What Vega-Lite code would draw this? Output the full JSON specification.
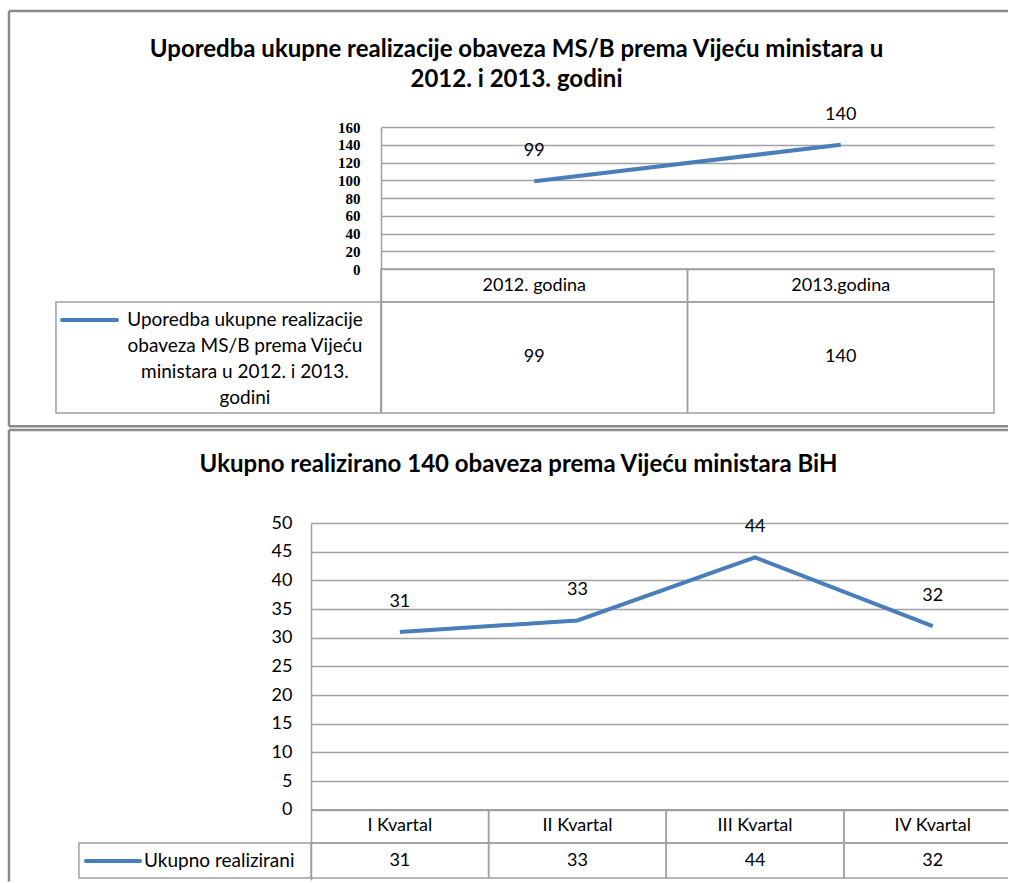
{
  "$schema": "https://vega.github.io/schema/vega-lite/v6.json",
  "padding": {"left": 7, "top": 9, "right": 0, "bottom": 0},
  "background": "white",
  "spacing": 0,
  "datasets": {
    "godine": [
      {"kategorija": "2012. godina", "vrijednost": 99},
      {"kategorija": "2013.godina", "vrijednost": 140}
    ],
    "serijaGodine": [
      {"serija": "Uporedba ukupne realizacije obaveza MS/B prema Vijeću ministara u 2012. i 2013. godini"}
    ],
    "kvartali": [
      {"kvartal": "I Kvartal", "vrijednost": 31},
      {"kvartal": "II Kvartal", "vrijednost": 33},
      {"kvartal": "III Kvartal", "vrijednost": 44},
      {"kvartal": "IV Kvartal", "vrijednost": 32}
    ],
    "serijaKvartali": [
      {"serija": "Ukupno realizirani"}
    ]
  },
  "config": {
    "view": {"stroke": null},
    "font": "Lato",
    "title": {"font": "Lato", "fontWeight": "bold", "fontSize": 24, "color": "black", "anchor": "middle", "frame": "group", "lineHeight": 30},
    "text": {"font": "Lato", "fontSize": 18, "color": "black"},
    "axisY": {
      "grid": true, "gridColor": "#a0a0a0", "gridWidth": 1.5,
      "domain": true, "domainColor": "#a0a0a0", "domainWidth": 1.5,
      "ticks": false, "tickSize": 0, "labelColor": "black", "labelOverlap": false, "labelBaseline": "middle"
    }
  },
  "vconcat": [
    {
      "width": 683,
      "height": 286,
      "title": {"text": ["Uporedba ukupne realizacije obaveza MS/B prema Vijeću ministara u", "2012. i 2013. godini"], "dx": -136, "offset": -82},
      "resolve": {"scale": {"x": "independent"}},
      "layer": [
        {
          "data": {"name": "godine"},
          "mark": {"type": "rect", "fill": "transparent", "stroke": "#a0a0a0", "strokeWidth": 1.5},
          "encoding": {
            "x": {"field": "kategorija", "type": "nominal", "sort": null, "scale": {"type": "band", "paddingInner": 0, "paddingOuter": 0, "range": [70, 683]}, "axis": null},
            "y": {"datum": 0, "type": "quantitative", "scale": {"domain": [-162, 160], "nice": false, "zero": false}},
            "y2": {"datum": -37}
          }
        },
        {
          "data": {"name": "godine"},
          "mark": {"type": "rect", "fill": "transparent", "stroke": "#a0a0a0", "strokeWidth": 1.5},
          "encoding": {
            "x": {"field": "kategorija", "type": "nominal", "sort": null, "scale": {"type": "band", "paddingInner": 0, "paddingOuter": 0, "range": [70, 683]}, "axis": null},
            "y": {"datum": -37, "type": "quantitative", "scale": {"domain": [-162, 160], "nice": false, "zero": false}},
            "y2": {"datum": -162}
          }
        },
        {
          "data": {"name": "godine"},
          "mark": {"type": "line", "color": "#4a7ebb", "strokeWidth": 4},
          "encoding": {
            "x": {"field": "kategorija", "type": "nominal", "sort": null, "bandPosition": 0.5, "scale": {"type": "band", "paddingInner": 0, "paddingOuter": 0, "range": [70, 683]}, "axis": null},
            "y": {
              "field": "vrijednost", "type": "quantitative",
              "scale": {"domain": [-162, 160], "nice": false, "zero": false},
              "axis": {
                "title": null,
                "values": [0, 20, 40, 60, 80, 100, 120, 140, 160],
                "tickCount": 50,
                "offset": -70,
                "labelFont": "Liberation Serif", "labelFontSize": 15, "labelFontWeight": "bold", "labelPadding": 21
              }
            }
          }
        },
        {
          "data": {"name": "godine"},
          "mark": {"type": "text", "dy": -30, "baseline": "middle"},
          "encoding": {
            "x": {"field": "kategorija", "type": "nominal", "sort": null, "bandPosition": 0.5, "scale": {"type": "band", "paddingInner": 0, "paddingOuter": 0, "range": [70, 683]}, "axis": null},
            "y": {"field": "vrijednost", "type": "quantitative", "scale": {"domain": [-162, 160], "nice": false, "zero": false}},
            "text": {"field": "vrijednost", "type": "quantitative"}
          }
        },
        {
          "data": {"name": "godine"},
          "mark": {"type": "text", "baseline": "middle"},
          "encoding": {
            "x": {"field": "kategorija", "type": "nominal", "sort": null, "bandPosition": 0.5, "scale": {"type": "band", "paddingInner": 0, "paddingOuter": 0, "range": [70, 683]}, "axis": null},
            "y": {"datum": -18.5, "type": "quantitative", "scale": {"domain": [-162, 160], "nice": false, "zero": false}},
            "text": {"field": "kategorija", "type": "nominal"}
          }
        },
        {
          "data": {"name": "godine"},
          "mark": {"type": "text", "baseline": "middle"},
          "encoding": {
            "x": {"field": "kategorija", "type": "nominal", "sort": null, "bandPosition": 0.5, "scale": {"type": "band", "paddingInner": 0, "paddingOuter": 0, "range": [70, 683]}, "axis": null},
            "y": {"datum": -99.5, "type": "quantitative", "scale": {"domain": [-162, 160], "nice": false, "zero": false}},
            "text": {"field": "vrijednost", "type": "quantitative"}
          }
        },
        {
          "data": {"name": "serijaGodine"},
          "mark": {"type": "rule", "color": "#8a8a8a", "strokeWidth": 2.5},
          "encoding": {
            "x": {"datum": -0.4422, "type": "quantitative", "scale": {"domain": [0, 1], "nice": false, "zero": false}, "axis": null},
            "y": {"datum": 290.6, "type": "quantitative", "scale": {"domain": [-162, 160], "nice": false, "zero": false}},
            "y2": {"datum": -177}
          }
        },
        {
          "data": {"name": "serijaGodine"},
          "mark": {"type": "rule", "color": "#8a8a8a", "strokeWidth": 2.5},
          "encoding": {
            "x": {"datum": -0.4422, "type": "quantitative", "scale": {"domain": [0, 1], "nice": false, "zero": false}, "axis": null},
            "x2": {"datum": 1.0205},
            "y": {"datum": 290.6, "type": "quantitative", "scale": {"domain": [-162, 160], "nice": false, "zero": false}}
          }
        },
        {
          "data": {"name": "serijaGodine"},
          "mark": {"type": "rule", "color": "#8a8a8a", "strokeWidth": 2.5},
          "encoding": {
            "x": {"datum": -0.4422, "type": "quantitative", "scale": {"domain": [0, 1], "nice": false, "zero": false}, "axis": null},
            "x2": {"datum": 1.0205},
            "y": {"datum": -177, "type": "quantitative", "scale": {"domain": [-162, 160], "nice": false, "zero": false}}
          }
        },
        {
          "data": {"name": "serijaGodine"},
          "mark": {"type": "rect", "fill": "transparent", "stroke": "#a0a0a0", "strokeWidth": 1.5},
          "encoding": {
            "x": {"datum": -0.3734, "type": "quantitative", "scale": {"domain": [0, 1], "nice": false, "zero": false}, "axis": null},
            "x2": {"datum": 0.1025},
            "y": {"datum": -37, "type": "quantitative", "scale": {"domain": [-162, 160], "nice": false, "zero": false}},
            "y2": {"datum": -162}
          }
        },
        {
          "data": {"name": "serijaGodine"},
          "mark": {"type": "rule", "color": "#4a7ebb", "strokeWidth": 4, "strokeCap": "round"},
          "encoding": {
            "x": {"datum": -0.3646, "type": "quantitative", "scale": {"domain": [0, 1], "nice": false, "zero": false}, "axis": null},
            "x2": {"datum": -0.284},
            "y": {"datum": -57.3, "type": "quantitative", "scale": {"domain": [-162, 160], "nice": false, "zero": false}}
          }
        },
        {
          "data": {"name": "serijaGodine"},
          "mark": {"type": "text", "align": "center", "baseline": "middle", "lineHeight": 26, "fontSize": 19,
                   "text": ["Uporedba ukupne realizacije", "obaveza MS/B prema Vijeću", "ministara u 2012. i 2013.", "godini"]},
          "encoding": {
            "x": {"datum": -0.0967, "type": "quantitative", "scale": {"domain": [0, 1], "nice": false, "zero": false}, "axis": null},
            "y": {"datum": -57.3, "type": "quantitative", "scale": {"domain": [-162, 160], "nice": false, "zero": false}}
          }
        }
      ]
    },
    {
      "width": 697,
      "height": 357,
      "title": {"text": "Ukupno realizirano 140 obaveza prema Vijeću ministara BiH", "dx": -141, "offset": -48},
      "resolve": {"scale": {"x": "independent"}},
      "layer": [
        {
          "data": {"name": "serijaKvartali"},
          "mark": {"type": "rule", "color": "#8a8a8a", "strokeWidth": 2.5},
          "encoding": {
            "x": {"datum": -0.4333, "type": "quantitative", "scale": {"domain": [0, 1], "nice": false, "zero": false}, "axis": null},
            "y": {
              "datum": 66.2, "type": "quantitative",
              "scale": {"domain": [-12.25, 50], "nice": false, "zero": false},
              "axis": {
                "title": null,
                "values": [0, 5, 10, 15, 20, 25, 30, 35, 40, 45, 50],
                "tickCount": 50,
                "labelFont": "Lato", "labelFontSize": 18, "labelPadding": 19
              }
            },
            "y2": {"datum": -12.5}
          }
        },
        {
          "data": {"name": "serijaKvartali"},
          "mark": {"type": "rule", "color": "#8a8a8a", "strokeWidth": 2.5},
          "encoding": {
            "x": {"datum": -0.4333, "type": "quantitative", "scale": {"domain": [0, 1], "nice": false, "zero": false}, "axis": null},
            "x2": {"datum": 1.0},
            "y": {"datum": 66.2, "type": "quantitative", "scale": {"domain": [-12.25, 50], "nice": false, "zero": false}}
          }
        },
        {
          "data": {"name": "kvartali"},
          "mark": {"type": "rect", "fill": "transparent", "stroke": "#a0a0a0", "strokeWidth": 1.5, "clip": true},
          "encoding": {
            "x": {"field": "kvartal", "type": "nominal", "sort": null, "scale": {"type": "band", "paddingInner": 0, "paddingOuter": 0, "range": [0, 710.5]}, "axis": null},
            "y": {"datum": 0, "type": "quantitative", "scale": {"domain": [-12.25, 50], "nice": false, "zero": false}},
            "y2": {"datum": -5.8}
          }
        },
        {
          "data": {"name": "kvartali"},
          "mark": {"type": "rect", "fill": "transparent", "stroke": "#a0a0a0", "strokeWidth": 1.5, "clip": true},
          "encoding": {
            "x": {"field": "kvartal", "type": "nominal", "sort": null, "scale": {"type": "band", "paddingInner": 0, "paddingOuter": 0, "range": [0, 710.5]}, "axis": null},
            "y": {"datum": -5.8, "type": "quantitative", "scale": {"domain": [-12.25, 50], "nice": false, "zero": false}},
            "y2": {"datum": -11.9}
          }
        },
        {
          "data": {"name": "kvartali"},
          "mark": {"type": "line", "color": "#4a7ebb", "strokeWidth": 4},
          "encoding": {
            "x": {"field": "kvartal", "type": "nominal", "sort": null, "bandPosition": 0.5, "scale": {"type": "band", "paddingInner": 0, "paddingOuter": 0, "range": [0, 710.5]}, "axis": null},
            "y": {"field": "vrijednost", "type": "quantitative", "scale": {"domain": [-12.25, 50], "nice": false, "zero": false}}
          }
        },
        {
          "data": {"name": "kvartali"},
          "mark": {"type": "text", "dy": -30, "baseline": "middle"},
          "encoding": {
            "x": {"field": "kvartal", "type": "nominal", "sort": null, "bandPosition": 0.5, "scale": {"type": "band", "paddingInner": 0, "paddingOuter": 0, "range": [0, 710.5]}, "axis": null},
            "y": {"field": "vrijednost", "type": "quantitative", "scale": {"domain": [-12.25, 50], "nice": false, "zero": false}},
            "text": {"field": "vrijednost", "type": "quantitative"}
          }
        },
        {
          "data": {"name": "kvartali"},
          "mark": {"type": "text", "baseline": "middle"},
          "encoding": {
            "x": {"field": "kvartal", "type": "nominal", "sort": null, "bandPosition": 0.5, "scale": {"type": "band", "paddingInner": 0, "paddingOuter": 0, "range": [0, 710.5]}, "axis": null},
            "y": {"datum": -2.92, "type": "quantitative", "scale": {"domain": [-12.25, 50], "nice": false, "zero": false}},
            "text": {"field": "kvartal", "type": "nominal"}
          }
        },
        {
          "data": {"name": "kvartali"},
          "mark": {"type": "text", "baseline": "middle"},
          "encoding": {
            "x": {"field": "kvartal", "type": "nominal", "sort": null, "bandPosition": 0.5, "scale": {"type": "band", "paddingInner": 0, "paddingOuter": 0, "range": [0, 710.5]}, "axis": null},
            "y": {"datum": -8.85, "type": "quantitative", "scale": {"domain": [-12.25, 50], "nice": false, "zero": false}},
            "text": {"field": "vrijednost", "type": "quantitative"}
          }
        },
        {
          "data": {"name": "serijaKvartali"},
          "mark": {"type": "rect", "fill": "transparent", "stroke": "#a0a0a0", "strokeWidth": 1.5},
          "encoding": {
            "x": {"datum": -0.3329, "type": "quantitative", "scale": {"domain": [0, 1], "nice": false, "zero": false}, "axis": null},
            "x2": {"datum": 0},
            "y": {"datum": -5.8, "type": "quantitative", "scale": {"domain": [-12.25, 50], "nice": false, "zero": false}},
            "y2": {"datum": -11.9}
          }
        },
        {
          "data": {"name": "serijaKvartali"},
          "mark": {"type": "rule", "color": "#4a7ebb", "strokeWidth": 4, "strokeCap": "round"},
          "encoding": {
            "x": {"datum": -0.3228, "type": "quantitative", "scale": {"domain": [0, 1], "nice": false, "zero": false}, "axis": null},
            "x2": {"datum": -0.2453},
            "y": {"datum": -8.94, "type": "quantitative", "scale": {"domain": [-12.25, 50], "nice": false, "zero": false}}
          }
        },
        {
          "data": {"name": "serijaKvartali"},
          "mark": {"type": "text", "align": "left", "baseline": "middle", "fontSize": 19},
          "encoding": {
            "x": {"datum": -0.2396, "type": "quantitative", "scale": {"domain": [0, 1], "nice": false, "zero": false}, "axis": null},
            "y": {"datum": -8.94, "type": "quantitative", "scale": {"domain": [-12.25, 50], "nice": false, "zero": false}},
            "text": {"field": "serija", "type": "nominal"}
          }
        }
      ]
    }
  ]
}
